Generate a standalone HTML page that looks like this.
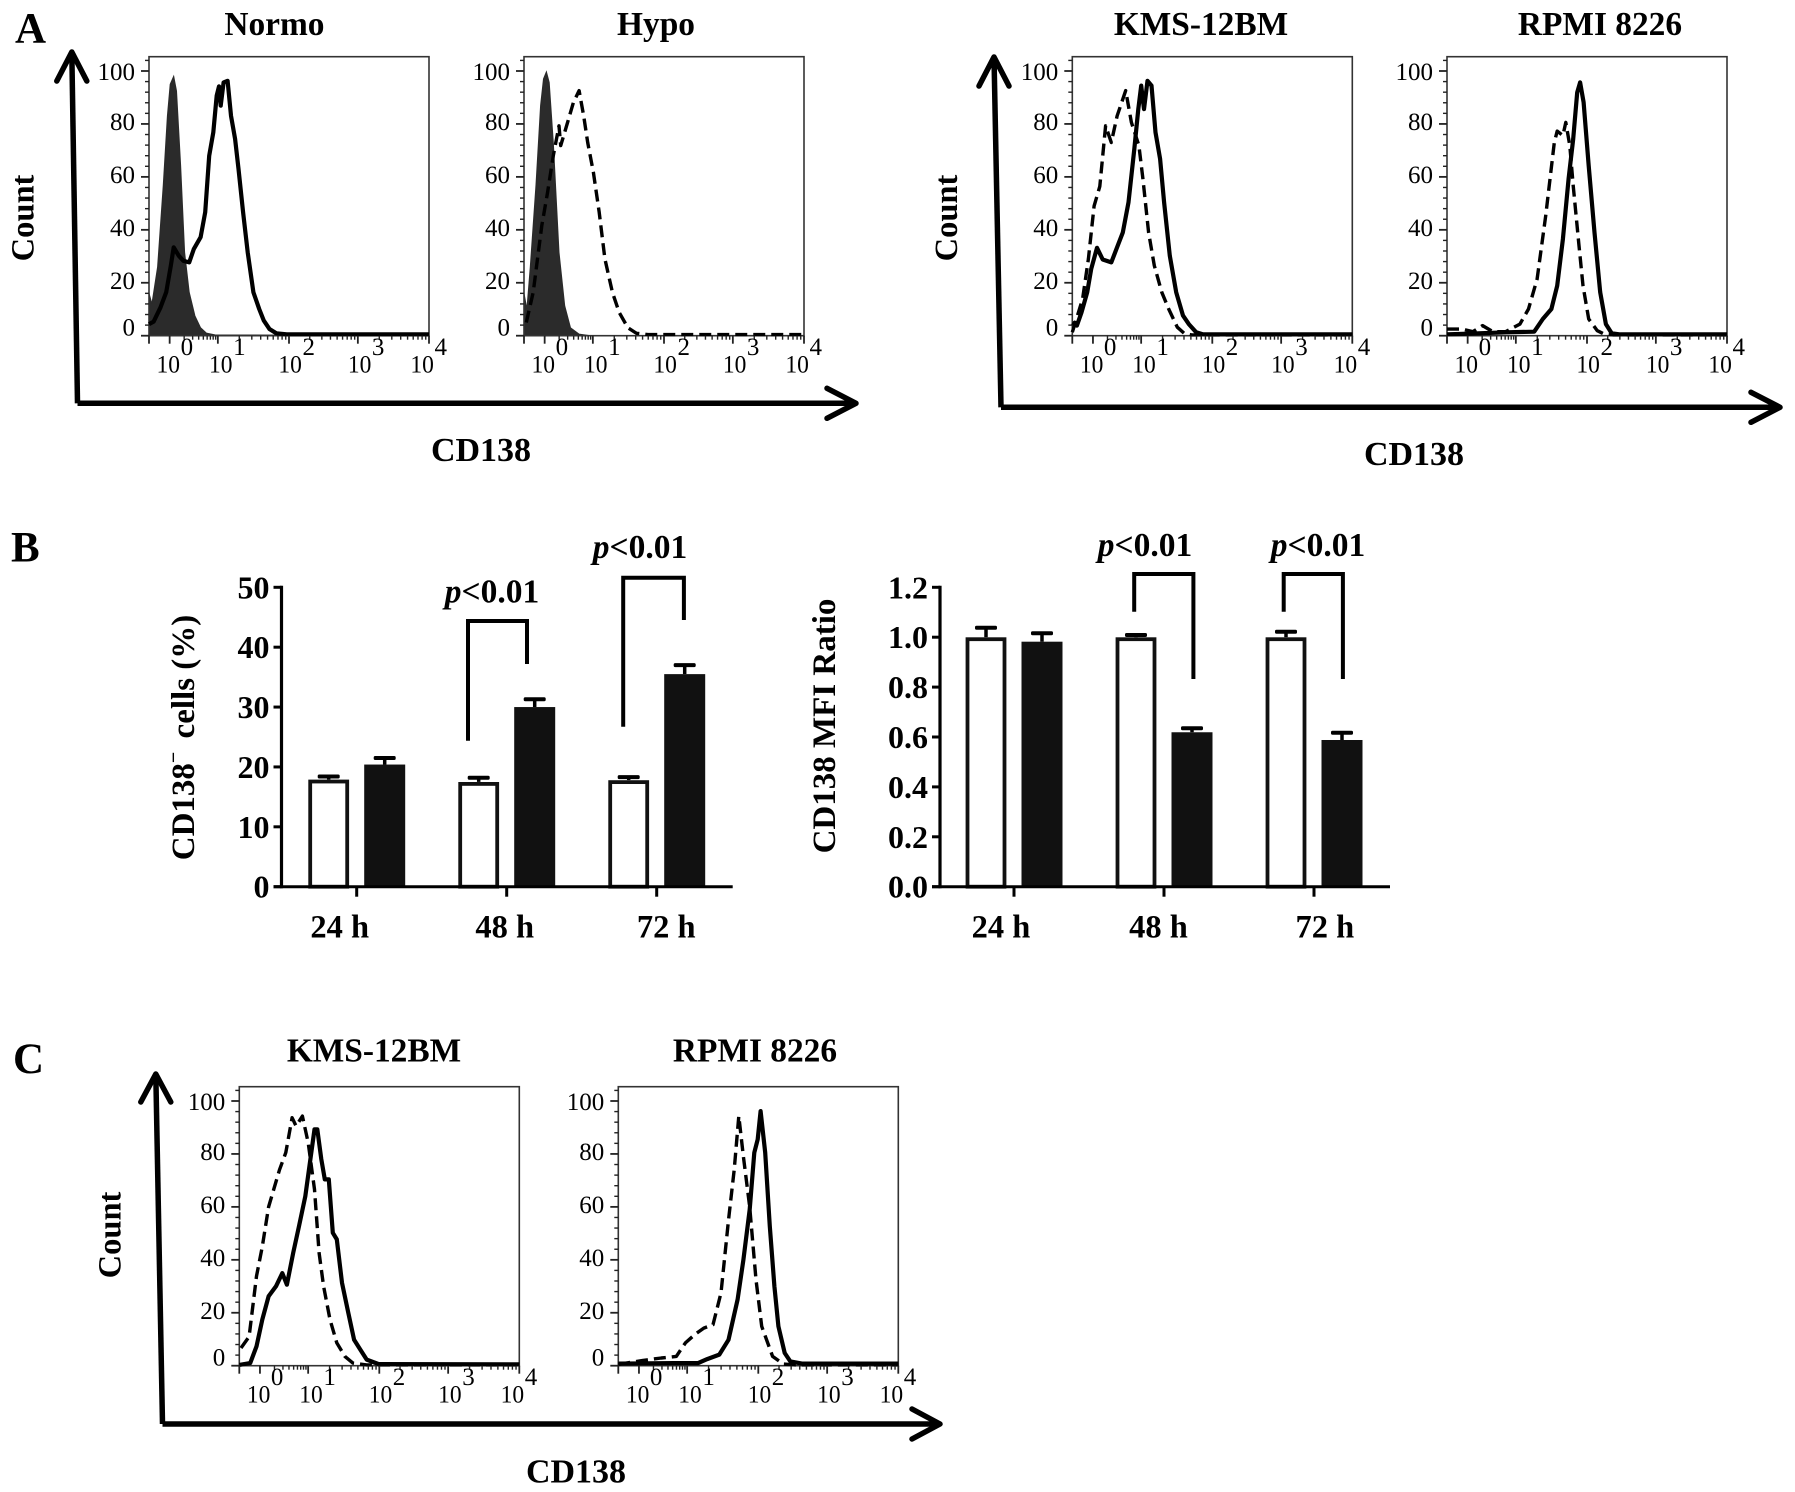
<!DOCTYPE html>
<html lang="en">
<head>
<meta charset="utf-8">
<title>CD138 expression figure</title>
<style>
  html, body { margin: 0; padding: 0; background: #fff; }
  svg { display: block; }
  text { font-family: "Liberation Serif", "DejaVu Serif", serif; fill: #000; }
</style>
</head>
<body>
<svg id="figure" xmlns="http://www.w3.org/2000/svg" width="1795" height="1492" viewBox="0 0 1795 1492"></svg>
<script>
// ---- Flow cytometry histogram data: channel numbers and % of max counts ----
const normoIsoChannels = [0,5,15,25,32,37,43,48,55,62,70,80,90,100,115,488];
const normoIsoCounts = [16,12,26,57,83,95,98,92.5,64.5,31.5,16.4,7.5,3,1,0.3,0];
const normoSolidChannels = [0,8,20,30,38,43,52,60,70,78,90,98,105,112,118,122,125,130,137,143,150,156,164,172,182,192,200,210,222,240,488];
const normoSolidCounts = [4.4,5.3,10.7,16.4,26.4,33.4,30.2,28.3,27.7,32.7,37.2,46.6,68,76.8,90.7,94.2,86.9,95.7,96.3,83.1,74.3,63,46.6,31.5,16.4,10.1,5.7,2.5,0.9,0.5,0.5];

const hypoIsoChannels = [0,5,11,21,29,34,39,44,51,61,71,81,96,116,486];
const hypoIsoCounts = [16,10,26,57,87,97,99.7,95.7,73,31.5,11.3,3,0.6,0,0];
const hypoDashChannels = [4,16,31,41,51,61,64,76,86,96,104,111,121,131,141,154,166,181,196,216,486];
const hypoDashCounts = [5,16.4,41.6,54,68,79.3,71.8,80.6,88,92.6,83,73,61.7,46.6,29,16.4,8.8,3,0.9,0.4,0.4];

const kmsSolidChannels = [0,8,16,26,33,43,53,68,78,88,98,108,115,120,125,131,138,145,153,160,170,181,193,203,216,228,488];
const kmsSolidCounts = [5,3.8,8.8,16.4,25.2,33.2,28.8,27.7,33.4,39,50.4,70.5,85.6,94.5,85.6,96.3,94.5,76.8,66.8,50.4,30.2,16.4,7.6,4.4,1.3,0.5,0.5];
const kmsDashChannels = [0,18,28,38,48,58,68,78,93,103,116,123,133,143,156,168,183,195,208,488];
const kmsDashCounts = [1.3,13.9,29,49,56.4,79.3,73,83,92.6,80.6,71.8,59.3,39,26.5,16.4,10.1,3.2,0.9,0.3,0.3];

const rpmiSolidChannels = [0,42,102,152,167,182,192,202,212,220,227,232,238,247,257,267,277,287,302,488];
const rpmiSolidCounts = [0.5,0.8,1.3,1.5,6.3,10.1,18.9,36.5,59.3,74.3,91.9,95.7,88.2,64.2,39,16.4,4.4,0.9,0.5,0.5];
const rpmiDashChannels = [0,27,45,62,80,102,127,142,157,172,187,192,202,207,214,220,230,237,247,262,274,290,488];
const rpmiDashCounts = [2.5,2.5,1.5,3.8,1.5,1.5,4.4,10.1,21.4,45.3,73,77.3,75.6,80.6,71.8,56.7,34,18.9,6.3,1.9,0.6,0.3,0.3];

const kmsCSolidChannels = [0,19,30,40,51,64,75,83,94,104,115,124,131,136,143,149,156,163,170,179,190,200,211,222,243,488];
const kmsCSolidCounts = [0.3,1,7.3,17.4,26.2,30,35,30.6,42.6,52.7,64,78,89.3,89.3,78,70.4,70.4,50.2,47.7,31.3,20,9.8,6,2.3,0.6,0.5];
const kmsCDashChannels = [3,17,30,40,51,70,81,92,99,110,120,131,139,147,158,170,184,198,222,488];
const kmsCDashCounts = [6.7,11,33.8,45,60,74,80.5,93.7,90.5,94.3,84.2,66.6,42.6,30,17.4,8.6,3.5,1,0.3,0.3];

const rpmiCSolidChannels = [0,96,139,155,176,192,208,218,229,237,243,248,256,264,272,279,290,300,320,488];
const rpmiCSolidCounts = [0.8,1,1,2.5,4.2,9.8,25,40,59,80.5,85.5,96.2,80.5,52.7,30,14.9,4.8,1.6,0.8,0.8];
const rpmiCDashChannels = [0,43,75,101,117,133,149,165,179,192,202,210,218,229,240,250,269,288,309,488];
const rpmiCDashCounts = [0.5,2,2.9,3.5,8.6,11.7,14.2,15.5,27.5,55,74,94.3,79,60,32.5,14.9,3.5,0.6,0.3,0.3];

// Flow axis ticks
const countTicks = [0,20,40,60,80,100];
const decadeChannels = [36,120,244,364,488];
const decadeLabelChannels = [33.6,125,246,367,476];
const decadeExponents = ['0','1','2','3','4'];

// ---- Bar chart data ----
const timeLabels = ['24 h','48 h','72 h'];
const pctTicks = [0,10,20,30,40,50];
const pctControl = [17.9,17.5,17.8];
const pctControlTop = [18.4,18.2,18.3];
const pctTreated = [20.4,30,35.5];
const pctTreatedTop = [21.5,31.3,37];
const mfiTicks = [0,0.2,0.4,0.6,0.8,1.0,1.2];
const mfiControl = [1.0,1.0,1.0];
const mfiControlTop = [1.038,1.009,1.022];
const mfiTreated = [0.982,0.619,0.588];
const mfiTreatedTop = [1.016,0.635,0.617];

const SVGNS = 'http://www.w3.org/2000/svg';
const root = document.getElementById('figure');

function mk(tag, attrs, name, parent) {
  const el = document.createElementNS(SVGNS, tag);
  for (const k in attrs) el.setAttribute(k, attrs[k]);
  
  
  (parent || root).appendChild(el);
  return el;
}
function txt(str, x, y, size, opts, name, parent) {
  const o = opts || {};
  const a = { x: x, y: y, 'font-size': size, 'text-anchor': o.anchor || 'middle' };
  if (o.bold) a['font-weight'] = 'bold';
  if (o.italic) a['font-style'] = 'italic';
  if (o.rotate) { a.transform = 'rotate(-90 ' + x + ' ' + y + ')'; }
  const el = mk('text', a, name, parent);
  el.textContent = str;
  return el;
}
function line(x1, y1, x2, y2, w, name, parent, color) {
  return mk('line', { x1: x1, y1: y1, x2: x2, y2: y2, stroke: color || '#000', 'stroke-width': w }, name, parent);
}

// ---- Flow histogram panel ----
const FRAME_W = 280, FRAME_H = 279, CH_MAX = 488, COUNT_PX = 2.647;

function flowPanel(opts) {
  const g = mk('g', {}, opts.name);
  const L = opts.left, T = opts.top, B = T + FRAME_H;
  const xScale = c => L + c / CH_MAX * FRAME_W;
  const yScale = v => B - v * COUNT_PX;
  const pathOf = (cs, vs) => cs.map((c, i) => (i ? 'L' : 'M') + xScale(c).toFixed(1) + ' ' + yScale(vs[i]).toFixed(1)).join(' ');

  if (opts.isoC) {
    const d = pathOf(opts.isoC, opts.isoV) + ' L' + xScale(opts.isoC[opts.isoC.length - 1]) + ' ' + B + ' L' + L + ' ' + B + ' Z';
    mk('path', { d: d, fill: '#2b2b2b', stroke: '#2b2b2b', 'stroke-width': 1 }, 'isotype-histogram', g);
  }
  mk('rect', { x: L, y: T, width: FRAME_W, height: FRAME_H, fill: 'none', stroke: '#333', 'stroke-width': 1.6 }, 'plot-frame', g);

  if (opts.dashC) {
    mk('path', { d: pathOf(opts.dashC, opts.dashV), fill: 'none', stroke: '#000', 'stroke-width': 3.4, 'stroke-dasharray': '12 6', 'stroke-linejoin': 'round' }, 'dashed-histogram', g);
  }
  if (opts.solidC) {
    mk('path', { d: pathOf(opts.solidC, opts.solidV), fill: 'none', stroke: '#000', 'stroke-width': 4.2, 'stroke-linejoin': 'round' }, 'solid-histogram', g);
  }

  // y axis ticks and labels
  for (let v = 0; v <= 104; v += 4) {
    const major = v % 20 === 0;
    line(L - (major ? 8 : 4), yScale(v), L, yScale(v), major ? 1.8 : 1.4, major ? 'y-major-tick' : 'y-minor-tick', g, '#222');
  }
  countTicks.forEach(v => {
    const dy = v === 0 ? 0 : (v === 100 ? 9 : 6);
    txt(String(v), L - 14, yScale(v) + dy, 25, { anchor: 'end' }, 'y-tick-label', g);
  });

  // x axis ticks and labels
  line(L, B, L, B + 8, 1.8, 'x-major-tick', g, '#222');
  decadeChannels.forEach((c, i) => {
    line(xScale(c), B, xScale(c), B + 8, 1.8, 'x-major-tick', g, '#222');
    if (i < decadeChannels.length - 1) {
      const next = decadeChannels[i + 1];
      for (let m = 2; m < 10; m++) {
        const mc = c + Math.log10(m) * (next - c);
        line(xScale(mc), B, xScale(mc), B + 4, 1.4, 'x-minor-tick', g, '#222');
      }
    }
    const labelX = xScale(decadeLabelChannels[i]);
    const base = txt('10', labelX, B + 37, 25.5, {}, 'x-tick-base', g);
    base.setAttribute('textLength', '23.5');
    base.setAttribute('lengthAdjust', 'spacingAndGlyphs');
    txt(decadeExponents[i], labelX + 18.6, B + 19.5, 25, {}, 'x-tick-exponent', g);
  });
  txt(opts.title, opts.titleX, opts.titleY, 33.4, { bold: true }, 'panel-title', g);
}

flowPanel({ name: 'normo-histogram-panel', left: 149, top: 56.7, title: 'Normo', titleX: 274.4, titleY: 35,
  isoC: normoIsoChannels, isoV: normoIsoCounts, solidC: normoSolidChannels, solidV: normoSolidCounts });
flowPanel({ name: 'hypo-histogram-panel', left: 524, top: 56.7, title: 'Hypo', titleX: 656, titleY: 35,
  isoC: hypoIsoChannels, isoV: hypoIsoCounts, dashC: hypoDashChannels, dashV: hypoDashCounts });
flowPanel({ name: 'kms-histogram-panel', left: 1072.3, top: 56.7, title: 'KMS-12BM', titleX: 1201, titleY: 35,
  dashC: kmsDashChannels, dashV: kmsDashCounts, solidC: kmsSolidChannels, solidV: kmsSolidCounts });
flowPanel({ name: 'rpmi-histogram-panel', left: 1447, top: 56.7, title: 'RPMI 8226', titleX: 1600, titleY: 35,
  dashC: rpmiDashChannels, dashV: rpmiDashCounts, solidC: rpmiSolidChannels, solidV: rpmiSolidCounts });
flowPanel({ name: 'kms-c-histogram-panel', left: 239.3, top: 1086.7, title: 'KMS-12BM', titleX: 374, titleY: 1061.7,
  dashC: kmsCDashChannels, dashV: kmsCDashCounts, solidC: kmsCSolidChannels, solidV: kmsCSolidCounts });
flowPanel({ name: 'rpmi-c-histogram-panel', left: 618.3, top: 1086.7, title: 'RPMI 8226', titleX: 755, titleY: 1061.7,
  dashC: rpmiCDashChannels, dashV: rpmiCDashCounts, solidC: rpmiCSolidChannels, solidV: rpmiCSolidCounts });

// ---- Large corner arrows ----
function cornerArrows(name, tipX, tipY, cx, cy, endX, headW, headL) {
  const g = mk('g', { fill: 'none', stroke: '#000', 'stroke-linecap': 'round', 'stroke-linejoin': 'round' }, name);
  mk('path', { d: 'M' + tipX + ' ' + tipY + ' L' + cx + ' ' + cy, 'stroke-width': 5.5, 'stroke-linecap': 'butt' }, 'count-axis-arrow-shaft', g);
  mk('path', { d: 'M' + (tipX - headW) + ' ' + (tipY + headL) + ' L' + tipX + ' ' + tipY + ' L' + (tipX + headW) + ' ' + (tipY + headL), 'stroke-width': 5.5 }, 'count-axis-arrow-head', g);
  mk('path', { d: 'M' + cx + ' ' + cy + ' L' + endX + ' ' + cy, 'stroke-width': 5.5, 'stroke-linecap': 'butt' }, 'cd138-axis-arrow-shaft', g);
  mk('path', { d: 'M' + (endX - headL) + ' ' + (cy - headW) + ' L' + endX + ' ' + cy + ' L' + (endX - headL) + ' ' + (cy + headW), 'stroke-width': 5.5 }, 'cd138-axis-arrow-head', g);
}
cornerArrows('panel-a-left-axes', 71.8, 52, 77.5, 403.3, 856, 15, 29);
cornerArrows('panel-a-right-axes', 994, 57, 1001, 407.3, 1780, 15, 29);
cornerArrows('panel-c-axes', 155.8, 1074, 162.5, 1424, 940, 15, 28);

txt('Count', 33.3, 218, 32.5, { bold: true, rotate: true }, 'count-axis-title');
txt('Count', 957, 218, 32.5, { bold: true, rotate: true }, 'count-axis-title');
txt('Count', 120.4, 1235, 32.5, { bold: true, rotate: true }, 'count-axis-title');
txt('CD138', 481, 461, 34, { bold: true }, 'cd138-axis-title');
txt('CD138', 1414, 465, 34, { bold: true }, 'cd138-axis-title');
txt('CD138', 576, 1482.7, 34, { bold: true }, 'cd138-axis-title');
txt('A', 15, 42.7, 43, { bold: true, anchor: 'start' }, 'panel-label-a');
txt('B', 11, 561.7, 43, { bold: true, anchor: 'start' }, 'panel-label-b');
txt('C', 13, 1073, 43, { bold: true, anchor: 'start' }, 'panel-label-c');

// ---- Bar charts ----
function barChart(o) {
  const g = mk('g', {}, o.name);
  const T = 587.3, B = 886.7, BAR_W = 41, STEP = 150;
  const y = v => B - v / o.yMax * (B - T);
  const center = i => o.firstTick + i * STEP;

  function bar(i, value, top, offset, isFilled, label) {
    const cx = center(i) + offset;
    const capY = y(top);
    line(cx, capY, cx, y(value), 3.5, label + '-error-stem', g);
    mk('rect', { x: cx - 11, y: capY - 2, width: 22, height: 4, rx: 1.5, fill: '#000' }, label + '-error-cap', g);
    if (isFilled) {
      mk('rect', { x: cx - BAR_W / 2, y: y(value), width: BAR_W, height: B - y(value), fill: '#111' }, label + '-bar', g);
    } else {
      mk('rect', { x: cx - BAR_W / 2 + 2, y: y(value) + 2, width: BAR_W - 4, height: B - y(value) - 2, fill: '#fff', stroke: '#111', 'stroke-width': 3.8 }, label + '-bar', g);
    }
  }
  timeLabels.forEach((t, i) => {
    bar(i, o.control[i], o.controlTop[i], -28, false, 'control');
    bar(i, o.treated[i], o.treatedTop[i], 28, true, 'treated');
  });

  line(o.axisX, T - 1.5, o.axisX, B + 1.5, 3.2, 'y-axis-line', g);
  line(o.axisX - 8, B, o.xEnd, B, 3, 'x-axis-line', g);
  o.ticks.forEach(v => {
    line(o.axisX - 8, y(v), o.axisX, y(v), 3, 'y-tick', g);
    txt(o.format(v), o.axisX - 12, y(v) + 11, 32, { bold: true, anchor: 'end' }, 'y-tick-label', g);
  });
  timeLabels.forEach((t, i) => {
    line(center(i), B, center(i), B + 10, 3, 'x-tick', g);
    txt(t, center(i) + o.labelNudge[i], 937.7, 32.5, { bold: true }, 'x-tick-label', g);
  });
}
barChart({ name: 'cd138-negative-bar-chart', firstTick: 356.7, axisX: 281.5, xEnd: 732.7, yMax: 50, ticks: pctTicks,
  format: v => String(v), control: pctControl, controlTop: pctControlTop, treated: pctTreated, treatedTop: pctTreatedTop,
  labelNudge: [-17, -2, 9.5] });
barChart({ name: 'cd138-mfi-bar-chart', firstTick: 1014, axisX: 940, xEnd: 1390, yMax: 1.2, ticks: mfiTicks,
  format: v => v.toFixed(1), control: mfiControl, controlTop: mfiControlTop, treated: mfiTreated, treatedTop: mfiTreatedTop,
  labelNudge: [-13, -5.5, 10.8] });

function bracket(xl, xr, top, bl, br, textX, textY) {
  const g = mk('g', {}, 'significance-bracket');
  mk('path', { d: 'M' + xl + ' ' + bl + ' L' + xl + ' ' + top + ' L' + xr + ' ' + top + ' L' + xr + ' ' + br, fill: 'none', stroke: '#000', 'stroke-width': 4 }, 'bracket-line', g);
  const t = txt('', textX, textY, 33.5, { bold: true }, 'p-value-label', g);
  const p = mk('tspan', { 'font-style': 'italic' }, 'p-symbol', t);
  p.textContent = 'p';
  const rest = mk('tspan', {}, 'p-threshold', t);
  rest.textContent = '<0.01';
}
bracket(468, 527, 621, 740.7, 664, 492, 602.7);
bracket(623.2, 683.9, 577.7, 726.7, 620, 640, 558);
bracket(1134.2, 1193.4, 574, 611.7, 679, 1145, 556);
bracket(1283.7, 1342.9, 574, 611.7, 679, 1318, 556);

// rotated bar chart titles
const pctTitle = txt('', 194, 737.5, 33, { bold: true, rotate: true }, 'cd138-negative-y-axis-title');
const pctA = mk('tspan', {}, 'title-marker', pctTitle);
pctA.textContent = 'CD138';
const pctB = mk('tspan', { 'font-size': 20, dy: -14 }, 'title-superscript', pctTitle);
pctB.textContent = '\u2212';
const pctC = mk('tspan', { dy: 14, dx: 5 }, 'title-rest', pctTitle);
pctC.textContent = ' cells (%)';
txt('CD138 MFI Ratio', 835, 726, 33, { bold: true, rotate: true }, 'cd138-mfi-y-axis-title');
</script>
</body>
</html>
